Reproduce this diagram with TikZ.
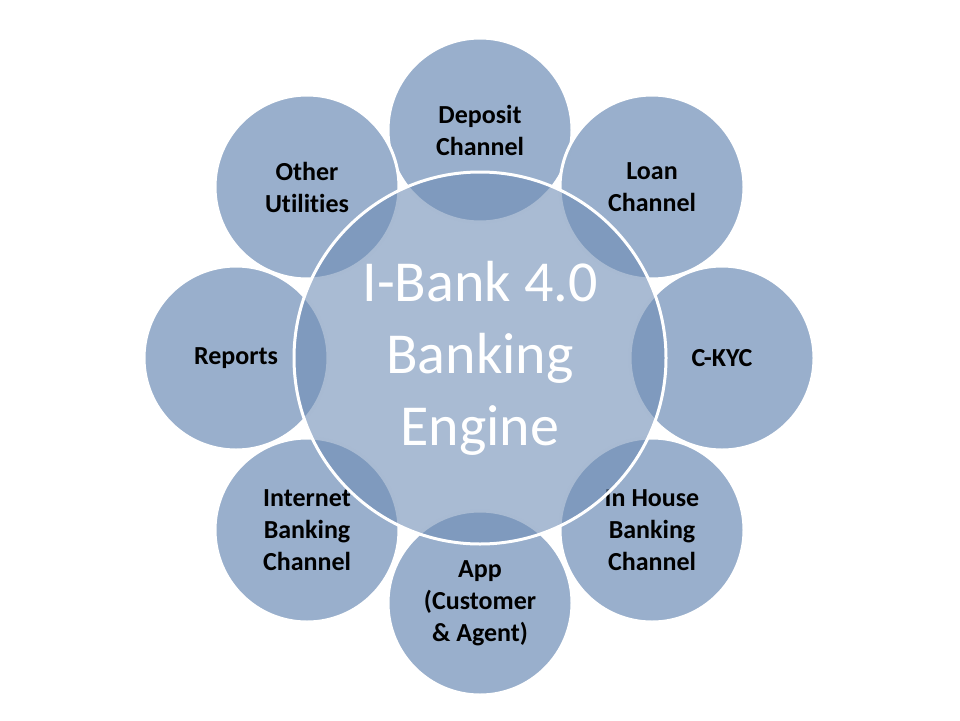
\documentclass[tikz,border=0pt]{standalone}
\usepackage{fontspec}
\setmainfont[Ligatures=NoCommon]{Carlito}
\definecolor{discblue}{HTML}{7F9BBF}
\definecolor{rimblue}{HTML}{6F8DB5}
\tikzset{
  disc/.style={circle, minimum size=184pt, inner sep=0pt, fill=discblue,
    fill opacity=0.8, text opacity=1, draw=white, line width=3pt,
    align=center, font=\fontsize{26}{32}\selectfont\bfseries, text=black},
  hub/.style={disc, minimum size=372pt, fill=rimblue, fill opacity=0.6,
    font=\fontsize{58}{72}\selectfont, text=white}
}
\begin{document}
\begin{tikzpicture}[x=1pt,y=-1pt]
  \useasboundingbox (0,0) rectangle (960,720);
  \node[disc] (deposit) at (480,130) {Deposit\\Channel};
  \node[disc] (loan) at (652,187) {Loan\\Channel};
  \node[disc] (ckyc) at (722,358) {C-KYC};
  \node[disc] (inhouse) at (652,530) {In House\\Banking\\Channel};
  \node[disc] (app) at (480,603) {App\\(Customer\\\& Agent)};
  \node[disc] (internet) at (307,530) {Internet\\Banking\\Channel};
  \node[disc] (reports) at (236,358) {Reports};
  \node[disc] (other) at (307,187) {Other\\Utilities};
  \node[hub] (engine) at (480,358) {I-Bank 4.0\\Banking\\Engine};
\end{tikzpicture}
\end{document}
